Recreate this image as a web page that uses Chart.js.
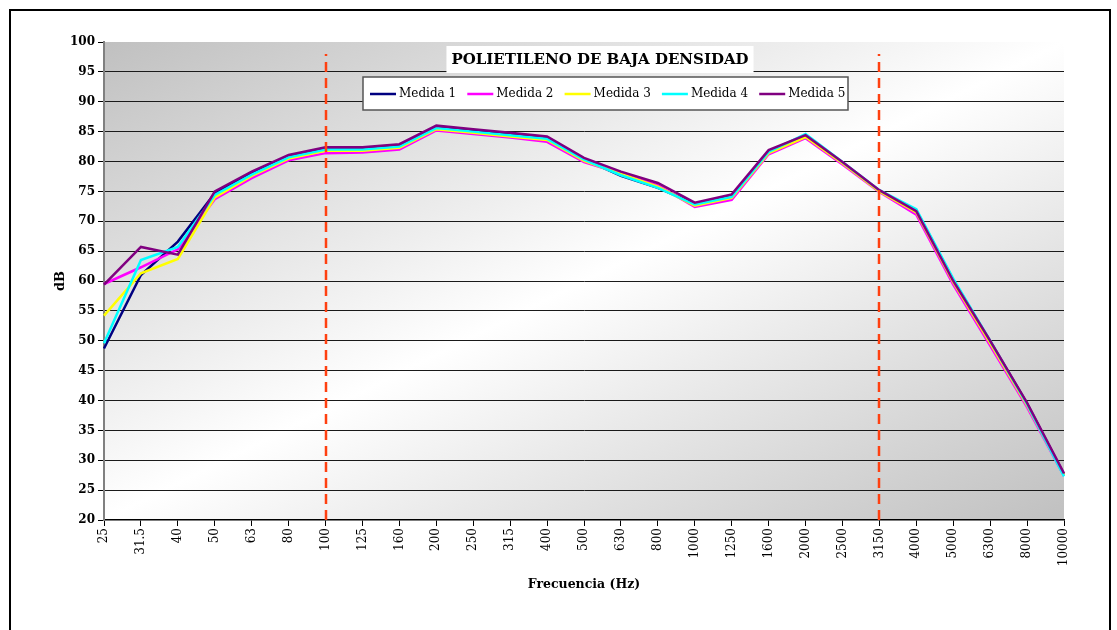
<!DOCTYPE html>
<html lang="es">
<head>
<meta charset="utf-8">
<title>Polietileno de baja densidad</title>
<script src="https://cdn.jsdelivr.net/npm/chart.js@4.4.1/dist/chart.umd.min.js"></script>
<style>
  html, body { margin: 0; padding: 0; background: #fff; }
  canvas { display: block; }
</style>
<script>
// bandas de tercio de octava (Hz)
var frecuencias = ['25', '31.5', '40', '50', '63', '80', '100', '125', '160', '200', '250', '315', '400', '500',
                   '630', '800', '1000', '1250', '1600', '2000', '2500', '3150', '4000', '5000', '6300', '8000', '10000'];

// niveles medidos en dB
var medida1 = [48.7, 61.0, 66.6, 74.7, 78.0, 80.9, 82.2, 82.2, 82.7, 85.8, 85.2, 84.6, 84.0, 80.4,
               77.6, 75.6, 72.9, 74.3, 81.7, 84.4, 79.8, 75.1, 71.8, 60.2, 49.9, 39.5, 27.6];
var medida2 = [59.5, 62.3, 65.3, 73.7, 77.2, 80.2, 81.4, 81.5, 82.0, 85.2, 84.6, 84.0, 83.3, 79.9,
               78.0, 76.0, 72.4, 73.6, 81.2, 83.9, 79.5, 74.9, 71.1, 59.4, 49.2, 38.9, 27.4];
var medida3 = [54.2, 61.3, 63.7, 74.0, 77.6, 80.5, 81.8, 81.8, 82.3, 85.4, 84.8, 84.2, 83.6, 80.1,
               77.9, 75.8, 72.6, 73.9, 81.4, 84.1, 79.7, 75.0, 71.5, 59.8, 49.6, 39.2, 27.5];
var medida4 = [49.6, 63.5, 65.7, 74.4, 77.8, 80.7, 82.0, 82.0, 82.5, 85.6, 85.0, 84.4, 83.8, 80.3,
               77.7, 75.6, 72.8, 74.1, 81.6, 84.6, 79.9, 75.2, 72.0, 60.4, 50.0, 39.4, 27.3];
var medida5 = [59.4, 65.7, 64.4, 75.0, 78.3, 81.1, 82.4, 82.4, 82.9, 86.0, 85.4, 84.8, 84.2, 80.6,
               78.3, 76.4, 73.1, 74.5, 81.9, 84.4, 79.9, 75.2, 71.7, 60.0, 50.0, 39.6, 27.8];

var nombres = ['Medida 1', 'Medida 2', 'Medida 3', 'Medida 4', 'Medida 5'];
var colores = ['#000080', '#ff00ff', '#ffff00', '#00ffff', '#800080'];

// limites del rango de frecuencias de interes
var limites = ['100', '3150'];

var titulo = 'POLIETILENO DE BAJA DENSIDAD';
var fuente = "'DejaVu Serif', serif";

// fondo degradado, marco exterior
var fondo = {
  id: 'fondo',
  beforeDraw: function(chart) {
    var ctx = chart.ctx, a = chart.chartArea;
    ctx.save();
    ctx.fillStyle = '#fff';
    ctx.fillRect(0, 0, chart.width, chart.height);
    ctx.strokeStyle = '#000';
    ctx.lineWidth = 2;
    ctx.strokeRect(10, 10, 1100, 640);

    // degradado diagonal: gris en las esquinas, blanco al centro
    var w = a.right - a.left, h = a.bottom - a.top;
    var cx = a.left + w / 2, cy = a.top + h / 2;
    var len = Math.sqrt(h * h + w * w);
    var ux = h / len, uy = w / len;
    var half = (w / 2 * ux + h / 2 * uy);
    var g = ctx.createLinearGradient(cx - half * ux, cy - half * uy, cx + half * ux, cy + half * uy);
    g.addColorStop(0, '#c0c0c0');
    g.addColorStop(0.5, '#ffffff');
    g.addColorStop(1, '#c0c0c0');
    ctx.fillStyle = g;
    ctx.fillRect(a.left, a.top, w, h);
    ctx.restore();
  }
};

// lineas de limite, titulo y leyenda dentro del area de trazado
var extras = {
  id: 'extras',
  afterDatasetsDraw: function(chart) {
    var ctx = chart.ctx, x = chart.scales.x, y = chart.scales.y;
    ctx.save();
    ctx.strokeStyle = '#ff4010';
    ctx.lineWidth = 2.5;
    ctx.setLineDash([10, 6]);
    limites.forEach(function(f) {
      var px = Math.round(x.getPixelForValue(frecuencias.indexOf(f)));
      ctx.beginPath();
      ctx.moveTo(px, y.getPixelForValue(20));
      ctx.lineTo(px, y.getPixelForValue(98));
      ctx.stroke();
    });
    ctx.setLineDash([]);

    // titulo
    ctx.font = 'bold 15px ' + fuente;
    var tw = ctx.measureText(titulo).width;
    var tx = 600;
    ctx.fillStyle = '#fff';
    ctx.fillRect(tx - tw / 2 - 5, 46, tw + 10, 27);
    ctx.fillStyle = '#000';
    ctx.textAlign = 'center';
    ctx.textBaseline = 'middle';
    ctx.fillText(titulo, tx, 60);

    // leyenda
    ctx.fillStyle = '#fff';
    ctx.fillRect(363, 77, 485, 33);
    ctx.strokeStyle = '#555';
    ctx.lineWidth = 1.5;
    ctx.strokeRect(363, 77, 485, 33);
    ctx.font = '12px ' + fuente;
    ctx.textAlign = 'left';
    nombres.forEach(function(n, i) {
      var lx = 370 + i * 97.3;
      ctx.strokeStyle = colores[i];
      ctx.lineWidth = 2.5;
      ctx.beginPath();
      ctx.moveTo(lx, 94);
      ctx.lineTo(lx + 26, 94);
      ctx.stroke();
      ctx.fillStyle = '#000';
      ctx.fillText(n, lx + 29, 94);
    });
    ctx.restore();
  }
};

function go() {
  var series = [medida1, medida2, medida3, medida4, medida5];
  var datasets = series.map(function(d, i) {
    return {
      label: nombres[i],
      data: d,
      borderColor: colores[i],
      backgroundColor: colores[i],
      borderWidth: 2.5,
      pointRadius: 0,
      tension: 0,
      fill: false,
      order: series.length - i
    };
  });

  new Chart(document.getElementById('grafica'), {
    type: 'line',
    data: { labels: frecuencias, datasets: datasets },
    options: {
      responsive: false,
      animation: false,
      layout: { padding: { left: 0, top: 42, right: 53, bottom: 0 } },
      plugins: { legend: { display: false }, title: { display: false }, tooltip: { enabled: false } },
      scales: {
        x: {
          afterFit: function(s) { s.height = 110; },
          border: { color: '#000', width: 1.5 },
          grid: { drawOnChartArea: false, tickLength: 6, tickColor: '#000' },
          ticks: { autoSkip: false, minRotation: 90, maxRotation: 90, padding: 2, color: '#000',
                   font: { family: fuente, size: 12 } },
          title: { display: true, text: 'Frecuencia (Hz)', color: '#000', padding: { top: 0, bottom: 38 },
                   font: { family: fuente, size: 12.5, weight: 'bold' } }
        },
        y: {
          min: 20, max: 100,
          afterFit: function(s) { s.width = 104; },
          border: { color: '#808080', width: 2 },
          grid: {
            color: function(c) { return (c.tick && (c.tick.value === 100 || c.tick.value === 20)) ? 'rgba(0,0,0,0)' : '#1a1a1a'; },
            lineWidth: 1, tickLength: 6, tickColor: '#000'
          },
          ticks: { stepSize: 5, padding: 3, color: '#000', font: { family: fuente, size: 12, weight: 'bold' } },
          title: { display: true, text: 'dB', color: '#000', padding: { top: 53, bottom: 0 },
                   font: { family: fuente, size: 13, weight: 'bold' } }
        }
      }
    },
    plugins: [fondo, extras]
  });
}
</script>
</head>
<body onload="go();">
<canvas id="grafica" width="1117" height="630"></canvas>
</body>
</html>
